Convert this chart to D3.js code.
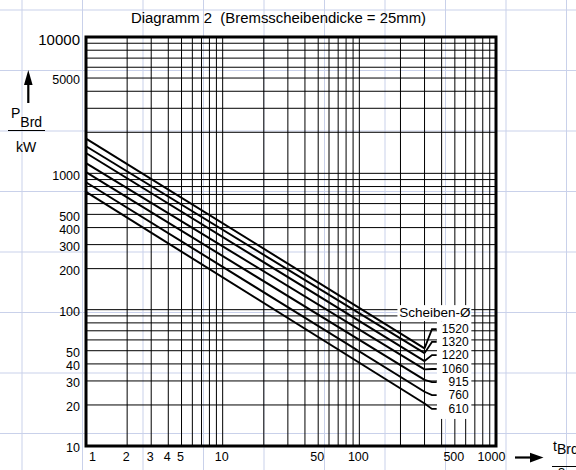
<!DOCTYPE html>
<html>
<head>
<meta charset="utf-8">
<script src="https://cdn.jsdelivr.net/npm/d3@7"></script>
<style>
  html, body { margin: 0; padding: 0; background: #fff; }
  svg { display: block; font-family: "Liberation Sans", Arial, sans-serif; }
</style>
</head>
<body>
<div id="chart"></div>
<script>
// ---------- data ----------
const diameters   = [1520, 1320, 1220, 1060, 915, 760, 610];   // Scheiben-Ø in mm
const powerAt1s   = [1800, 1580, 1410, 1190, 1020, 860, 730];  // P_Brd at t = 1 s
const powerAt300s = [52, 48, 42, 36.5, 30.5, 25, 20.5];        // P_Brd at t = 300 s
const labelPower  = [72, 58, 46.4, 36.7, 29.4, 23.6, 18.7];    // where each label sits
const tEnd = 300;

const yTickLabels = [10000, 5000, 1000, 500, 400, 300, 200, 100, 50, 40, 30, 20, 10];
const xTickLabels = [1, 2, 3, 4, 5, 10, 50, 100, 500, 1000];

// ---------- svg ----------
const width = 576, height = 470;
const svg = d3.select("#chart").append("svg")
    .attr("width", width)
    .attr("height", height);

// graph paper behind everything
const paper = svg.append("g").attr("stroke", "#c9d1ea").attr("stroke-width", 1);
d3.range(22, width, 60.5).forEach(px => {
    paper.append("line").attr("x1", px).attr("x2", px).attr("y1", 0).attr("y2", height);
});
d3.range(10, height, 60.5).forEach(py => {
    paper.append("line").attr("x1", 0).attr("x2", width).attr("y1", py).attr("y2", py);
});

// scales
const x = d3.scaleLog().domain([1, 1000]).range([86, 496]);
const y = d3.scaleLog().domain([10, 10000]).range([446, 37]);

// log grid
const grid = svg.append("g").attr("stroke", "#000").attr("stroke-width", 1);
grid.selectAll(".vx")
    .data(x.ticks())
    .join("line")
    .attr("x1", d => x(d)).attr("x2", d => x(d))
    .attr("y1", y.range()[0]).attr("y2", y.range()[1]);
grid.selectAll(".hy")
    .data(y.ticks())
    .join("line")
    .attr("x1", x.range()[0]).attr("x2", x.range()[1])
    .attr("y1", d => y(d)).attr("y2", d => y(d));

// white boxes behind the legend texts
const boxTop = y(labelPower[0]) - 8;
const boxBottom = y(labelPower[labelPower.length - 1]) + 10;
svg.append("rect")
    .attr("x", x(370)).attr("y", boxTop)
    .attr("width", x(660) - x(370)).attr("height", boxBottom - boxTop)
    .attr("fill", "#fff");
svg.append("rect")
    .attr("x", x(190)).attr("y", boxTop - 16)
    .attr("width", x(660) - x(190)).attr("height", 16)
    .attr("fill", "#fff");

// curves
const line = d3.line().x(d => x(d[0])).y(d => y(d[1]));
diameters.forEach((dia, i) => {
    const pts = [[1, powerAt1s[i]], [tEnd, powerAt300s[i]]];
    svg.append("path")
        .attr("d", line(pts))
        .attr("fill", "none")
        .attr("stroke", "#000")
        .attr("stroke-width", 2);
    // leader to the label
    const lead = [[tEnd, powerAt300s[i]], [340, labelPower[i]], [368, labelPower[i]]];
    svg.append("path")
        .attr("d", line(lead))
        .attr("fill", "none")
        .attr("stroke", "#000")
        .attr("stroke-width", 1.8);
    svg.append("text")
        .attr("x", x(630))
        .attr("y", y(labelPower[i]))
        .attr("dy", "0.36em")
        .attr("text-anchor", "end")
        .attr("font-size", 12)
        .text(dia);
});

svg.append("text")
    .attr("x", x(630) + 2)
    .attr("y", y(labelPower[0]) - 12)
    .attr("text-anchor", "end")
    .attr("font-size", 13.5)
    .text("Scheiben-Ø");

// frame
svg.append("rect")
    .attr("x", x.range()[0]).attr("y", y.range()[1])
    .attr("width", x.range()[1] - x.range()[0])
    .attr("height", y.range()[0] - y.range()[1])
    .attr("fill", "none")
    .attr("stroke", "#000")
    .attr("stroke-width", 3);

// y tick labels
svg.selectAll(".ylab")
    .data(yTickLabels)
    .join("text")
    .attr("x", 80)
    .attr("y", d => y(d) + (d === 10000 ? 7.5 : 6.3))
    .attr("text-anchor", "end")
    .attr("font-size", d => d === 10000 ? 15 : 12.5)
    .text(d => d);

// x tick labels
svg.selectAll(".xlab")
    .data(xTickLabels)
    .join("text")
    .attr("x", d => x(d) + (d === 1 ? 3 : d === 1000 ? -4.5 : -1))
    .attr("y", 461)
    .attr("text-anchor", d => d === 1 ? "start" : "middle")
    .attr("font-size", 12.5)
    .text(d => d);

// title
svg.append("text")
    .attr("x", 131)
    .attr("y", 22.7)
    .attr("font-size", 14.9)
    .attr("xml:space", "preserve")
    .style("white-space", "pre")
    .text("Diagramm 2  (Bremsscheibendicke = 25mm)");

// y axis caption
svg.append("polygon")
    .attr("points", "28.3,70 24,85 32.6,85")
    .attr("fill", "#000");
svg.append("line")
    .attr("x1", 28.3).attr("x2", 28.3).attr("y1", 84).attr("y2", 103)
    .attr("stroke", "#000").attr("stroke-width", 2.2);
const pLab = svg.append("text").attr("x", 11).attr("y", 118).attr("font-size", 14);
pLab.append("tspan").text("P");
pLab.append("tspan").attr("dy", 8.5).text("Brd");
svg.append("line")
    .attr("x1", 8).attr("x2", 45).attr("y1", 130.5).attr("y2", 130.5)
    .attr("stroke", "#000").attr("stroke-width", 1);
svg.append("text")
    .attr("x", 16).attr("y", 151.5).attr("font-size", 14)
    .text("kW");

// x axis caption
svg.append("line")
    .attr("x1", 515).attr("x2", 532).attr("y1", 457.5).attr("y2", 457.5)
    .attr("stroke", "#000").attr("stroke-width", 2.2);
svg.append("polygon")
    .attr("points", "530,452.7 543.5,457.5 530,462.5")
    .attr("fill", "#000");
const tLab = svg.append("text").attr("x", 553).attr("y", 450.5).attr("font-size", 14);
tLab.append("tspan").text("t");
tLab.append("tspan").attr("dy", 3).text("Brd");
svg.append("line")
    .attr("x1", 552).attr("x2", 576).attr("y1", 466.5).attr("y2", 466.5)
    .attr("stroke", "#000").attr("stroke-width", 1);
svg.append("text")
    .attr("x", 558).attr("y", 476).attr("font-size", 14)
    .text("s");
</script>
</body>
</html>
